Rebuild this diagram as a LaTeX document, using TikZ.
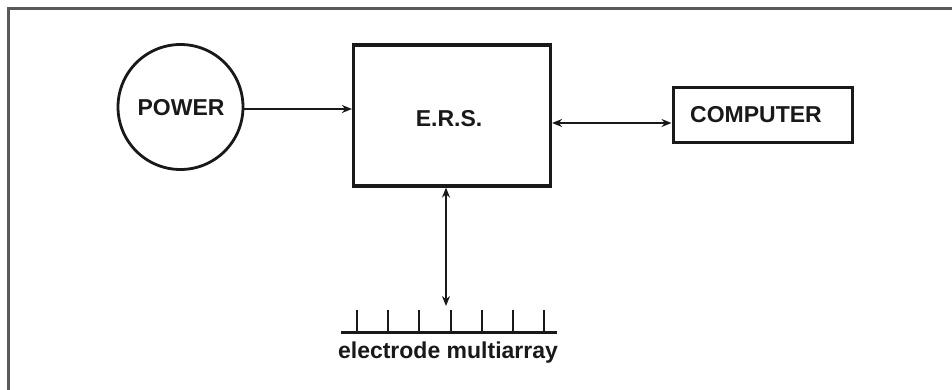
\documentclass[tikz,border=0pt]{standalone}
\usepackage{fontspec}
\setmainfont{Liberation Sans}
\usetikzlibrary{arrows.meta}
\begin{document}
\begin{tikzpicture}[x=1pt,y=-1pt,
  lbl/.style={font=\fontsize{23}{26}\selectfont\bfseries, text=black!90},
  boxline/.style={draw=black!90, line width=3.2pt},
  conn/.style={draw=black!90, line width=2pt},
  tip/.style={-{Stealth[length=10pt,width=8pt]}},
  dtip/.style={{Stealth[length=10pt,width=8pt]}-{Stealth[length=10pt,width=8pt]}},
  framel/.style={draw=black!65, line width=2.6pt}]
\useasboundingbox (0,0) rectangle (952,390);
\fill[white] (0,0) rectangle (952,390);
% frame (top and left only)
\draw[framel] (8.5,390) -- (8.5,8.5) -- (952,8.5);
% nodes
\node[circle, boxline, line width=2.8pt, minimum size=125pt, inner sep=0pt] (power) at (180.5,107) {};
\node[lbl] (powert) at (181,108) {POWER};
\node[rectangle, boxline, minimum width=197pt, minimum height=141pt, inner sep=0pt] (ers) at (452,115.5) {};
\node[lbl] (erst) at (449,119) {E.R.S.};
\node[rectangle, boxline, line width=3pt, minimum width=179pt, minimum height=55pt, inner sep=0pt] (comp) at (762.5,115.5) {};
\node[lbl] (compt) at (756,115) {COMPUTER};
% electrode
\coordinate (bl) at (341,332);
\coordinate (br) at (557,332);
\coordinate (etop) at (446,306);
\draw[conn, line width=3pt] (bl) -- (br);
\foreach \xx in {357,388,419,451,482,513,544} {
  \draw[conn, line width=2.8pt] (\xx,310) -- (\xx,332);
}
\node[lbl] (elt) at (448,353) {electrode multiarray};
% connectors
\coordinate (py) at (0,109);
\draw[conn, tip] (power.east |- py) -- (ers.west |- py);
\coordinate (cy) at (0,123);
\draw[conn, dtip] (ers.east |- cy) -- (comp.west |- cy);
\draw[conn, dtip] (ers.south -| etop) -- (etop);
\end{tikzpicture}
\end{document}
